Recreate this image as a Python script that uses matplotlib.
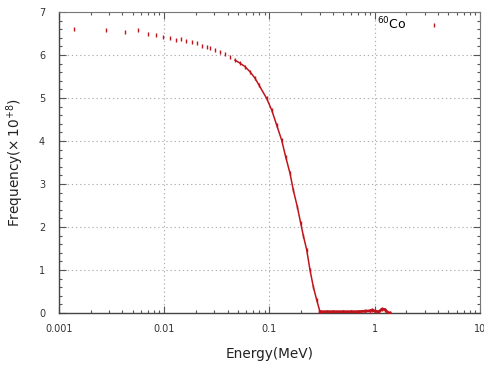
import numpy as np
import matplotlib.pyplot as plt
from matplotlib.ticker import LogLocator, MultipleLocator, FixedFormatter, FixedLocator

# 60Co spectrum, values
energy = [0.00139, 0.0028, 0.0042, 0.0056, 0.0070, 0.0083, 0.0098,
          0.01135, 0.01293, 0.01433, 0.01609, 0.01835, 0.02033, 0.0227,
          0.02531, 0.02721, 0.03036, 0.03386, 0.03778, 0.04216, 0.047,
          0.05245, 0.05851, 0.0653, 0.0728, 0.0795, 0.0940, 0.1049,
          0.117, 0.1305, 0.1425, 0.1566, 0.1683, 0.1838, 0.1979, 0.2096,
          0.2256, 0.2426, 0.2608, 0.281, 0.302, 0.35, 0.4, 0.5, 0.6, 0.7,
          0.8, 0.9, 0.95, 1.0, 1.1, 1.17, 1.25, 1.33, 1.4]
freq = [6.60, 6.58, 6.54, 6.58, 6.48, 6.47, 6.42,
        6.39, 6.36, 6.37, 6.33, 6.31, 6.29, 6.21,
        6.19, 6.17, 6.12, 6.08, 6.02, 5.96, 5.88,
        5.81, 5.73, 5.61, 5.46, 5.30, 4.99, 4.72,
        4.37, 4.02, 3.63, 3.25, 2.86, 2.47, 2.09, 1.80,
        1.47, 1.00, 0.61, 0.30, 0.03, 0.03, 0.03, 0.03, 0.03, 0.03,
        0.04, 0.05, 0.07, 0.04, 0.03, 0.09, 0.08, 0.01, 0.0]

xticks = [0.001, 0.01, 0.1, 1, 10]
xtick_labels = ['0.001', '0.01', '0.1', '1', '10']
yticks = [0, 1, 2, 3, 4, 5, 6, 7]

red = '#c0141c'
fig = plt.figure(figsize=(4.84, 3.69), dpi=100)
ax = fig.add_axes([0.1219, 0.1518, 0.8698, 0.8157])

e = np.array(energy)
f = np.array(freq)
dense = e >= 0.045
flat = e >= 0.30
ax.plot(e[dense], f[dense], color=red, lw=1.1, zorder=3)
ax.plot(e[flat], f[flat], color=red, lw=2.0, zorder=3)
ax.plot(e, f, ls='none', marker='|', ms=2.5, mew=1.0, color=red, zorder=4,
        label='$^{60}$Co')

ax.set_xscale('log')
ax.set_xlim(0.001, 10)
ax.set_ylim(0, 7)
ax.xaxis.set_major_locator(FixedLocator(xticks))
ax.xaxis.set_major_formatter(FixedFormatter(xtick_labels))
ax.xaxis.set_minor_locator(LogLocator(base=10, subs=np.arange(2, 10)))
ax.xaxis.set_minor_formatter(FixedFormatter([]))
ax.yaxis.set_major_locator(FixedLocator(yticks))
ax.yaxis.set_minor_locator(MultipleLocator(0.2))

ax.tick_params(which='both', direction='in', top=True, right=True,
               colors='#555555', labelcolor='#333333', labelsize=7, width=0.8)
ax.tick_params(which='major', length=5, pad=8)
ax.tick_params(which='minor', length=2.5)
ax.tick_params(axis='y', pad=10)

for s in ['left', 'bottom']:
    ax.spines[s].set_color('#444444')
    ax.spines[s].set_linewidth(1.0)
for s in ['top', 'right']:
    ax.spines[s].set_color('#777777')
    ax.spines[s].set_linewidth(0.8)

ax.grid(True, which='major', ls=(0, (1.2, 2.5)), color='#b0b0b0', lw=0.8)

ax.set_xlabel('Energy(MeV)', fontsize=9.8, color='#222222', labelpad=9)
ax.set_ylabel(r'Frequency($\times\,10^{+8}$)', fontsize=9.8, color='#222222',
              labelpad=9)

leg = ax.legend(loc='upper right', frameon=False, markerfirst=False,
                fontsize=9, handlelength=2.8, borderaxespad=0.2,
                bbox_to_anchor=(0.95, 1.012))

fig.savefig('out.png', dpi=100)
